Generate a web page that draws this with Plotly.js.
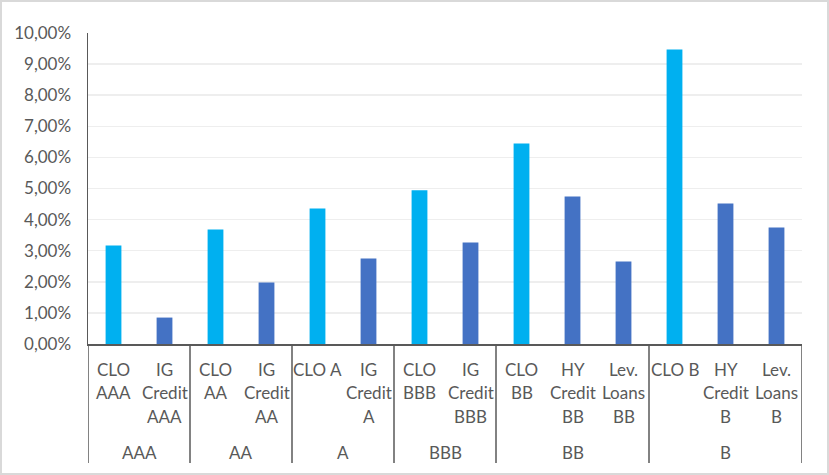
<!DOCTYPE html>
<html>
<head>
<meta charset="utf-8">
<script src="https://cdn.plot.ly/plotly-3.0.1.min.js"></script>
<style>
  html, body { margin: 0; padding: 0; background: #fff; }
  #wrap { position: relative; width: 829px; height: 475px; }
  #chart { width: 829px; height: 475px; }
  #frame { position: absolute; left: 0; top: 0; width: 829px; height: 475px; box-sizing: border-box; border: 2px solid #d9d9d9; pointer-events: none; }
</style>
</head>
<body>
<div id="wrap"><div id="chart"></div><div id="frame"></div></div>
<script>
// Data
const categories = ["CLO AAA", "IG Credit AAA", "CLO AA", "IG Credit AA", "CLO A", "IG Credit A",
                    "CLO BBB", "IG Credit BBB", "CLO BB", "HY Credit BB", "Lev. Loans BB",
                    "CLO B", "HY Credit B", "Lev. Loans B"];
const tickLabels = ["CLO<br>AAA", "IG<br>Credit<br>AAA", "CLO<br>AA", "IG<br>Credit<br>AA", "CLO A", "IG<br>Credit<br>A",
                    "CLO<br>BBB", "IG<br>Credit<br>BBB", "CLO<br>BB", "HY<br>Credit<br>BB", "Lev.<br>Loans<br>BB",
                    "CLO B", "HY<br>Credit<br>B", "Lev.<br>Loans<br>B"];
const groupOf = ["AAA", "AAA", "AA", "AA", "A", "A", "BBB", "BBB", "BB", "BB", "BB", "B", "B", "B"];
const values = [3.17, 0.85, 3.68, 1.98, 4.36, 2.75, 4.94, 3.26, 6.45, 4.74, 2.65, 9.47, 4.52, 3.75];
const yTicks = [0, 1, 2, 3, 4, 5, 6, 7, 8, 9, 10];
const yTickText = ["0,00%", "1,00%", "2,00%", "3,00%", "4,00%", "5,00%", "6,00%", "7,00%", "8,00%", "9,00%", "10,00%"];

const textColor = "#595959";
const lineColor = "#595959";
const fontFamily = "Lato, 'Noto Sans', sans-serif";
const fontSize = 17;

const colors = categories.map(c => c.startsWith("CLO") ? "#00B0F0" : "#4472C4");

const plotTop = 33, plotBottom = 344, H = 475;
const plotH = plotBottom - plotTop;
const dividerBottom = -(463 - plotBottom) / plotH;

// Group spans
const groupSpans = [];
groupOf.forEach((g, i) => {
  const last = groupSpans[groupSpans.length - 1];
  if (last && last.name === g) last.end = i;
  else groupSpans.push({ name: g, start: i, end: i });
});

const annotations = [];
tickLabels.forEach((lab, i) => {
  lab.split("<br>").forEach((line, j) => {
    annotations.push({
      x: categories[i], xref: "x", y: 0, yref: "paper",
      text: line, showarrow: false, xanchor: "center", yanchor: "middle",
      yshift: -(369 - plotBottom) - j * 23.5,
      font: { family: fontFamily, size: fontSize, color: textColor }
    });
  });
});
groupSpans.forEach(s => {
  annotations.push({
    x: (s.start + s.end) / 2, xref: "x", y: 0, yref: "paper",
    text: s.name, showarrow: false, xanchor: "center", yanchor: "middle",
    yshift: -(452 - plotBottom),
    font: { family: fontFamily, size: fontSize, color: textColor }
  });
});

const shapes = [];
const bounds = [-0.5].concat(groupSpans.map(s => s.end + 0.5));
bounds.forEach(b => {
  shapes.push({
    type: "line", xref: "x", yref: "paper", x0: b, x1: b, y0: 0, y1: dividerBottom,
    line: { color: lineColor, width: 1.5 }
  });
});

const trace = {
  type: "bar",
  x: categories,
  y: values,
  marker: { color: colors },
  width: 0.31,
  hoverinfo: "x+y"
};

const layout = {
  width: 829, height: H,
  margin: { l: 88, r: 27, t: plotTop, b: H - plotBottom, pad: 0 },
  paper_bgcolor: "#ffffff",
  plot_bgcolor: "#ffffff",
  showlegend: false,
  font: { family: fontFamily, size: fontSize, color: textColor },
  xaxis: {
    type: "category",
    range: [-0.5, categories.length - 0.5],
    showticklabels: false,
    ticks: "",
    showgrid: false,
    showline: true, linecolor: lineColor, linewidth: 1.5,
    zeroline: false,
    fixedrange: true
  },
  yaxis: {
    range: [0, 10],
    tickmode: "array",
    tickvals: yTicks,
    ticktext: yTickText,
    ticks: "",
    ticklabelstandoff: 12,
    showgrid: true, gridcolor: "#eeeeee", gridwidth: 1.5,
    showline: true, linecolor: lineColor, linewidth: 1.5,
    zeroline: false,
    tickfont: { family: fontFamily, size: fontSize, color: textColor },
    fixedrange: true
  },
  annotations: annotations,
  shapes: shapes
};

Plotly.newPlot("chart", [trace], layout, { displayModeBar: false, staticPlot: true });
</script>
</body>
</html>
